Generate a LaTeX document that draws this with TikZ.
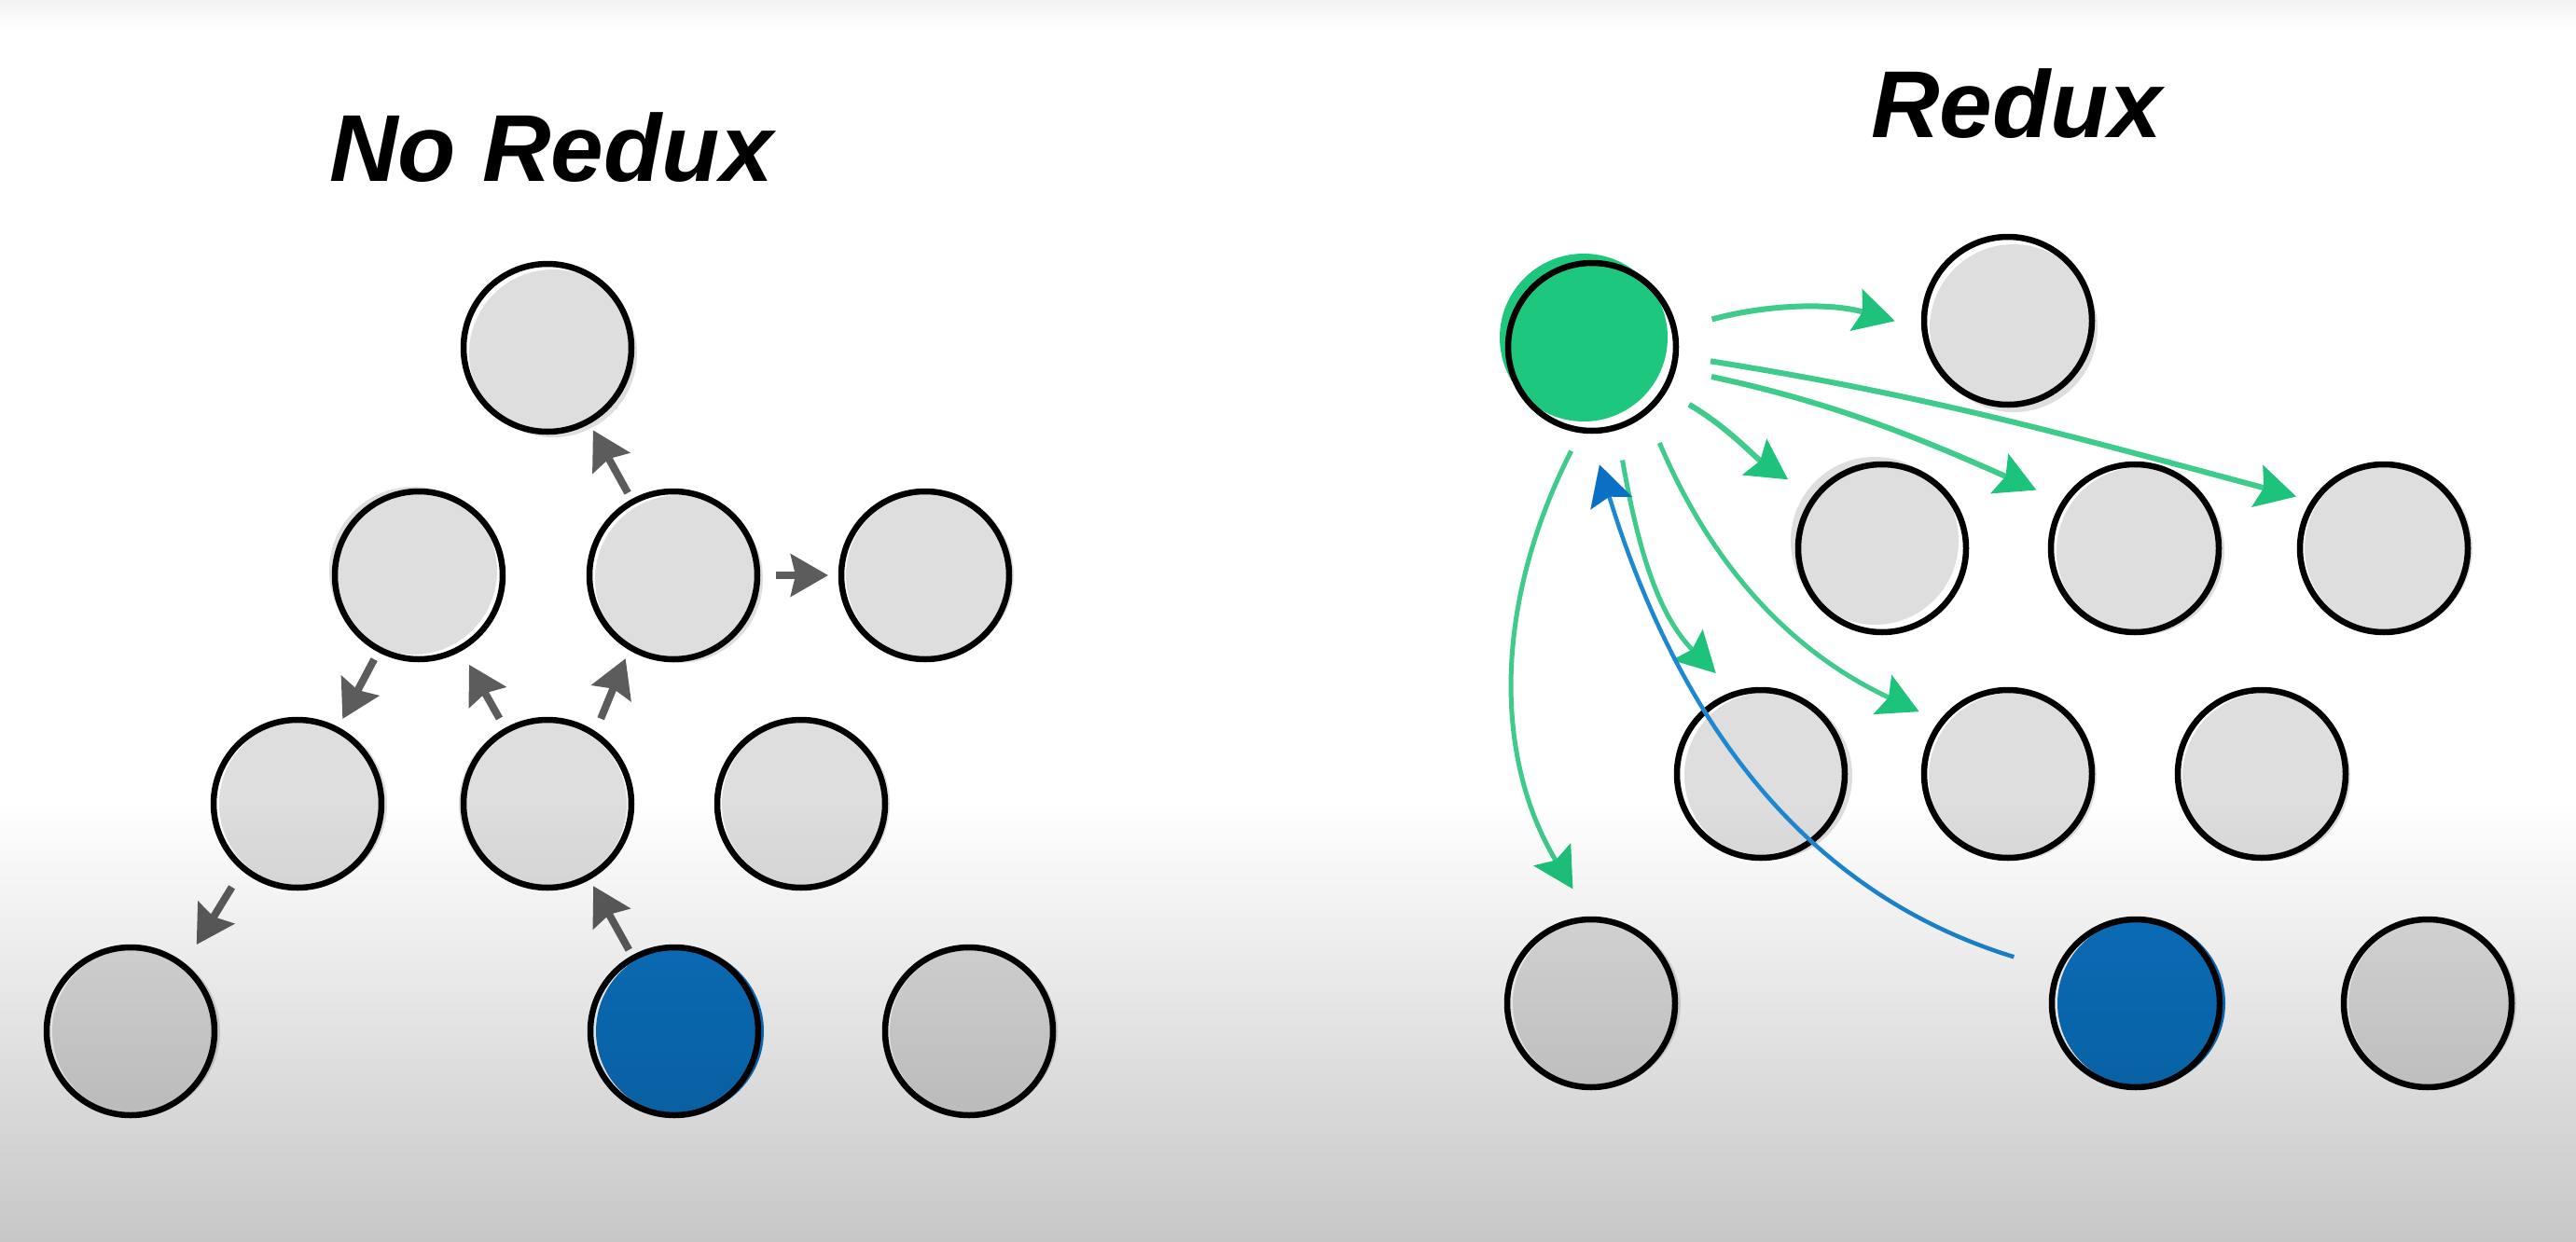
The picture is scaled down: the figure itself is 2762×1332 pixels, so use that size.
\documentclass[tikz,border=0pt]{standalone}
\usepackage{fontspec}
\setmainfont{Liberation Sans}
\usetikzlibrary{arrows.meta,shadows,fadings}

\definecolor{bubgray}{HTML}{DEDEDE}
\definecolor{bubgreen}{HTML}{1DC77E}
\definecolor{bubblue}{HTML}{0B72C0}
\definecolor{arrgray}{HTML}{5C5C5C}
\definecolor{glinec}{HTML}{3FCB8B}
\definecolor{gheadc}{HTML}{1EC37B}
\definecolor{blinec}{HTML}{1C88D2}
\definecolor{bheadc}{HTML}{0A70C4}
\definecolor{topstrip}{HTML}{F3F3F3}

\tikzfading[name=fadebot, top color=transparent!100, bottom color=transparent!0]

\begin{document}
\begin{tikzpicture}[x=0.1mm,y=-0.1mm,
  bub/.style n args={3}{circle, minimum size=18mm, inner sep=0pt, outer sep=0pt,
     draw=black, line width=0.65mm,
     general shadow={fill=#1, shadow xshift=#2, shadow yshift=#3}},
  titletext/.style={font=\fontsize{29}{31}\selectfont\bfseries\itshape, text=black, anchor=base, inner sep=0pt},
  grayarrow/.style={draw=arrgray, line width=0.8mm,
     -{Stealth[length=4mm, width=4.5mm, inset=0.5mm]}},
  greenarrow/.style={draw=glinec, line width=0.6mm,
     -{Stealth[length=4.3mm, width=4.6mm, inset=0.7mm, color=gheadc]}},
  bluearrow/.style={draw=blinec, line width=0.45mm,
     -{Stealth[length=4.3mm, width=4.6mm, inset=0.7mm, color=bheadc]}}
]
\useasboundingbox (0,0) rectangle (2762,1332);
\fill[white] (0,0) rectangle (2762,1332);
\shade[top color=topstrip, bottom color=white] (0,0) rectangle (2762,32);

% titles
\node[titletext] (t1) at (591,194) {No Redux};
\node[titletext] (t2) at (2162,147) {Redux};

% ---- left: No Redux ----
\node[bub={bubgray}{0.6mm}{-0.6mm}] (T)   at (587,373) {};
\node[bub={bubgray}{-0.6mm}{0.5mm}] (L2a) at (449,617) {};
\node[bub={bubgray}{0.6mm}{-0.4mm}] (L2b) at (722,617) {};
\node[bub={bubgray}{0.5mm}{0mm}]    (L2c) at (992,617) {};
\node[bub={bubgray}{0.6mm}{0mm}]    (L3a) at (319,862) {};
\node[bub={bubgray}{-0.5mm}{0mm}]   (L3b) at (587,862) {};
\node[bub={bubgray}{0.5mm}{0mm}]    (L3c) at (859,862) {};
\node[bub={bubgray}{0.6mm}{0mm}]    (L4a) at (140,1106) {};
\node[bub={bubblue}{0.6mm}{0mm}]    (LB)  at (723,1106) {};
\node[bub={bubgray}{0.5mm}{0mm}]    (L4c) at (1039,1106) {};

\draw[grayarrow, shorten <=1.1mm, shorten >=1.1mm] (L2b) -- (T);
\draw[grayarrow, shorten <=2mm, shorten >=1.4mm] (L2b) -- (L2c);
\draw[grayarrow, shorten <=1.2mm, shorten >=1.3mm] (L2a) -- (L3a);
\draw[grayarrow, shorten <=1.5mm, shorten >=2mm] (L3b) -- (L2a);
\draw[grayarrow, shorten <=1.8mm, shorten >=1.3mm] (L3b.56) -- (L2b.239);
\draw[grayarrow, shorten <=2.4mm, shorten >=2.7mm] (L3a.230) -- (L4a.51);
\draw[grayarrow, shorten <=1.0mm, shorten >=1.1mm] (LB) -- (L3b);

% ---- right: Redux ----
\node[bub={bubgreen}{-0.9mm}{1.0mm}] (G)   at (1707,372) {};
\node[bub={bubgray}{0.6mm}{-0.8mm}]  (R1)  at (2153,344) {};
\node[bub={bubgray}{-0.8mm}{0.8mm}]  (R2a) at (2018,588) {};
\node[bub={bubgray}{0.6mm}{-0.3mm}]  (R2b) at (2289,588) {};
\node[bub={bubgray}{0.5mm}{0mm}]     (R2c) at (2556,588) {};
\node[bub={bubgray}{0.8mm}{-0.2mm}]  (R3a) at (1888,830) {};
\node[bub={bubgray}{0.5mm}{-0.3mm}]  (R3b) at (2153,830) {};
\node[bub={bubgray}{0.5mm}{-0.3mm}]  (R3c) at (2425,830) {};
\node[bub={bubgray}{0.6mm}{0mm}]     (R4a) at (1706,1076) {};
\node[bub={bubblue}{0.6mm}{0mm}]     (RB)  at (2290,1076) {};
\node[bub={bubgray}{0.5mm}{0mm}]     (R4c) at (2603,1076) {};

\draw[greenarrow, shorten <=4.2mm, shorten >=3.3mm] (G.12)  to[out=15,in=164]  (R1.186);
\draw[greenarrow, shorten <=3.1mm, shorten >=3.5mm] (G.-31) to[out=-30,in=146] (R2a.143);
\draw[greenarrow, shorten <=4.2mm, shorten >=3.3mm] (G.-15) to[out=-12,in=156] (R2b.147);
\draw[greenarrow, shorten <=3.8mm, shorten >=2.0mm] (G.-6)  to[out=-9,in=165]  (R2c.146);
\draw[greenarrow, line width=0.5mm, shorten <=3.6mm, shorten >=3.1mm] (G.-73) to[out=-80,in=135] (R3a.107);
\draw[greenarrow, line width=0.5mm, shorten <=3.7mm, shorten >=2.7mm] (G.-50) to[out=-67,in=155] (R3b.142);
\draw[greenarrow, line width=0.5mm, shorten <=2.5mm, shorten >=3.8mm] (G.-97) to[out=-117,in=121] (R4a.90);
\draw[bluearrow, shorten <=5mm, shorten >=3.8mm] (RB.157) to[out=163,in=287] (G.268);

% bottom darkening
\fill[black, fill opacity=0.22, path fading=fadebot] (0,860) rectangle (2762,1332);
\end{tikzpicture}
\end{document}
